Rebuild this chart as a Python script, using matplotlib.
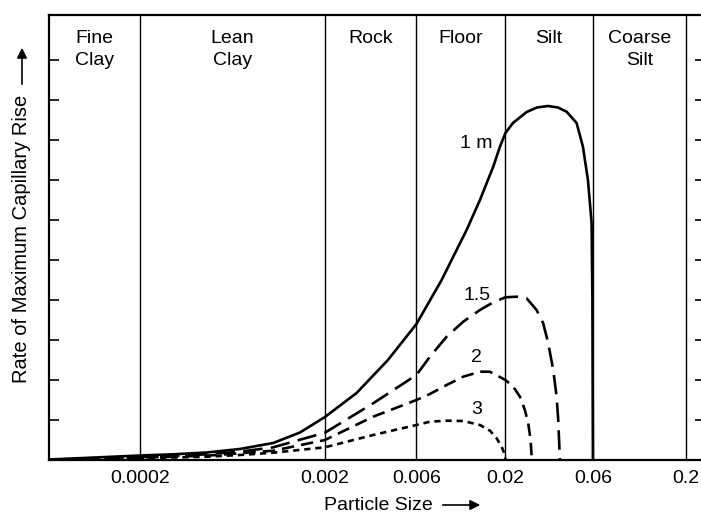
import numpy as np
import matplotlib
matplotlib.use("Agg")
import matplotlib.pyplot as plt

plt.rcParams['font.family'] = ['Liberation Sans', 'DejaVu Sans']
plt.rcParams['lines.scale_dashes'] = False

# zone boundaries (particle size) and names
limites = [0.0002, 0.002, 0.006, 0.02, 0.06, 0.2]
etiquetas_x = ["0.0002", "0.002", "0.006", "0.02", "0.06", "0.2"]
zonas = ["Fine\nClay", "Lean\nClay", "Rock", "Floor", "Silt", "Coarse\nSilt"]

# curves: particle size -> rate
x_1m = [6.45e-5, 1.142e-4, 2e-4, 3.02e-4, 4.59e-4, 6.94e-4, 1.051e-3, 1.466e-3,
        0.002, 2.926e-3, 4.262e-3, 0.006, 8.44e-3, 9.87e-3, 0.01183, 0.01417,
        0.01696, 0.01857, 0.02, 0.02198, 0.0261, 0.0297, 0.0341, 0.03866,
        0.04314, 0.0489, 0.05293, 0.05637, 0.05902, 0.05962, 0.06]
y_1m = [0.0125, 0.0625, 0.1125, 0.1425, 0.1875, 0.275, 0.425, 0.6875,
        1.075, 1.675, 2.5, 3.4, 4.5, 5.0825, 5.75, 6.5,
        7.3325, 7.8325, 8.175, 8.425, 8.7, 8.8125, 8.85, 8.8125,
        8.7075, 8.425, 7.8325, 7.0, 5.925, 4.0, 0.0]

x_15 = [6.45e-5, 2e-4, 3.02e-4, 4.59e-4, 6.94e-4, 1.051e-3, 0.002, 3.57e-3,
        0.006, 7.2e-3, 9.03e-3, 0.0113, 0.01417, 0.01696, 0.02, 0.02302,
        0.0261, 0.02958, 0.03214, 0.03424, 0.03646, 0.03804, 0.03882, 0.03964]
y_15 = [0.005, 0.075, 0.1, 0.1425, 0.2075, 0.3175, 0.6825, 1.4175,
        2.125, 2.5825, 3.0825, 3.4575, 3.75, 3.9425, 4.0675, 4.0825,
        4.0425, 3.75, 3.4175, 2.9175, 2.25, 1.5825, 1.0, 0.0]

x_2 = [6.45e-5, 2e-4, 4.59e-4, 6.94e-4, 1.051e-3, 0.002, 3.57e-3, 0.006,
       7.2e-3, 9.03e-3, 0.0113, 0.01417, 0.01622, 0.02, 0.02206, 0.024,
       0.02554, 0.02663, 0.02744, 0.0278, 0.02808]
y_2 = [0.004, 0.06, 0.1075, 0.1675, 0.2325, 0.5, 1.0825, 1.5,
       1.65, 1.875, 2.0825, 2.2075, 2.2075, 2.0, 1.8325, 1.5825,
       1.25, 0.9175, 0.5, 0.0825, 0.0]

x_3 = [6.45e-5, 2e-4, 4.59e-4, 6.94e-4, 1.051e-3, 0.002, 3.57e-3, 0.006,
       7.2e-3, 9.03e-3, 0.0113, 0.01417, 0.01622, 0.01776, 0.019, 0.01987, 0.02]
y_3 = [0.003, 0.04, 0.0825, 0.125, 0.1825, 0.3175, 0.625, 0.875,
       0.9575, 0.9825, 0.975, 0.875, 0.7325, 0.5425, 0.3325, 0.125, 0.0]

etiquetas_curvas = ["1 m", "1.5", "2", "3"]
pos_etiquetas = [(0.01355, 7.925), (0.01355, 4.125), (0.0135, 2.55), (0.0135, 1.25)]

# the printed axis is almost log, but not quite: piecewise log scale
EDGE_LOG = np.log10(limites)
EDGE_POS = np.array([0.0, 1.0, 1.4946, 1.9757, 2.4486, 2.9514])


def _pw(v, xs, ys):
    v = np.asarray(v, dtype=float)
    out = np.interp(v, xs, ys)
    s0 = (ys[1] - ys[0]) / (xs[1] - xs[0])
    s1 = (ys[-1] - ys[-2]) / (xs[-1] - xs[-2])
    out = np.where(v < xs[0], ys[0] + (v - xs[0]) * s0, out)
    out = np.where(v > xs[-1], ys[-1] + (v - xs[-1]) * s1, out)
    return out


def fwd(x):
    return _pw(np.log10(np.clip(np.asarray(x, dtype=float), 1e-12, None)), EDGE_LOG, EDGE_POS)


def inv(p):
    return 10 ** _pw(p, EDGE_POS, EDGE_LOG)


fig = plt.figure(figsize=(7.01, 5.17), dpi=100)
ax = fig.add_axes([49 / 701, 57 / 517, 656 / 701, 445 / 517])
ax.set_xscale('function', functions=(fwd, inv))
ax.set_xlim(6.45e-5, 0.256)
ax.set_ylim(0, 11.125)

for b in limites:
    ax.axvline(b, color='black', lw=1.0)

ax.plot(x_1m, y_1m, color='black', lw=1.9, solid_joinstyle='round')
ax.plot(x_15, y_15, color='black', lw=1.9, linestyle=(0, (14, 6)))
ax.plot(x_2, y_2, color='black', lw=1.9, linestyle=(0, (9, 5)))
ax.plot(x_3, y_3, color='black', lw=1.9, linestyle=(0, (4.5, 3.5)))

for txt, (xx, yy) in zip(etiquetas_curvas, pos_etiquetas):
    ax.text(xx, yy, txt, fontsize=14, ha='center', va='center')

# zone names, centred between boundaries
bordes = [ax.get_xlim()[0]] + limites
for i, nombre in enumerate(zonas):
    xc = np.sqrt(bordes[i] * bordes[i + 1])
    ax.text(xc, 0.966, nombre, fontsize=14, ha='center', va='top',
            linespacing=1.35, transform=ax.get_xaxis_transform())

ax.set_xticks(limites)
ax.set_xticklabels(etiquetas_x, fontsize=14)
ax.set_xticks([], minor=True)
ax.tick_params(axis='x', length=0, pad=7)
ax.set_yticks(range(1, 11))
ax.set_yticklabels([])
ax.tick_params(axis='y', direction='in', length=7.5, width=1.2, left=True, right=True)
for s in ax.spines.values():
    s.set_linewidth(1.6)

# axis titles with arrows
fig.text(22 / 701, 1 - 239 / 517, "Rate of Maximum Capillary Rise", rotation=90,
         fontsize=14.5, ha='center', va='center')
fig.text(378 / 701, 1 - 505 / 517, "Particle Size", fontsize=14, ha='center', va='center')
fig.add_artist(matplotlib.patches.FancyArrowPatch(
    (22 / 701, 1 - 87 / 517), (22 / 701, 1 - 45 / 517), transform=fig.transFigure,
    arrowstyle='-|>', mutation_scale=15, lw=1.2, color='black'))
fig.add_artist(matplotlib.patches.FancyArrowPatch(
    (440 / 701, 1 - 505 / 517), (483 / 701, 1 - 505 / 517), transform=fig.transFigure,
    arrowstyle='-|>', mutation_scale=15, lw=1.2, color='black'))

fig.savefig("out.png", dpi=100)
